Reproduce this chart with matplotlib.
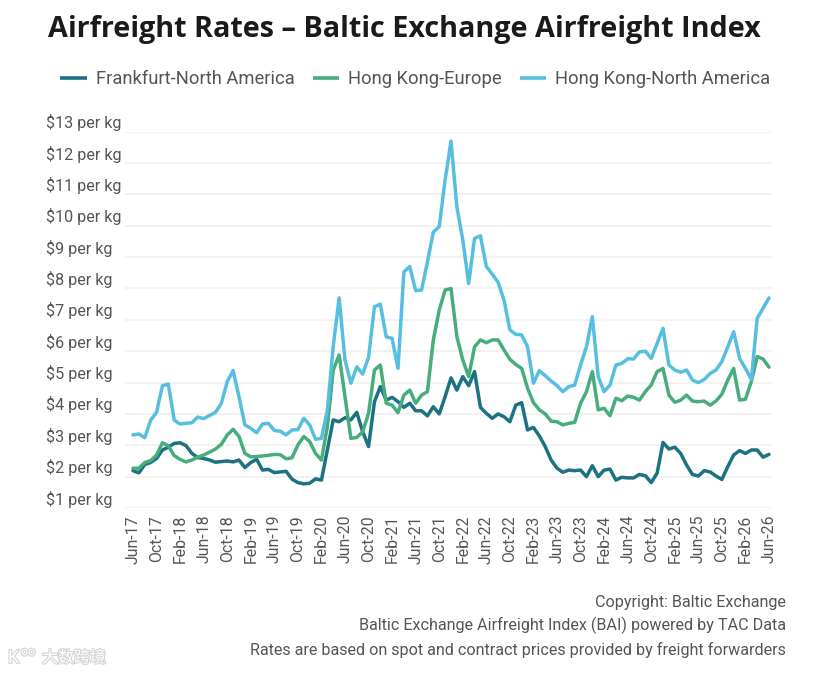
import numpy as np
import pandas as pd
import matplotlib
matplotlib.use("Agg")
import matplotlib.pyplot as plt
import matplotlib.patheffects as pe
from matplotlib.lines import Line2D

months = pd.date_range("2017-06-01", periods=109, freq="MS")
y_ticks = list(range(1, 14))
series_names = ["Frankfurt-North America", "Hong Kong-Europe", "Hong Kong-North America"]

frankfurt = [2.19,2.12,2.39,2.45,2.58,2.85,2.94,3.06,3.08,2.99,2.74,2.61,2.58,2.53,2.46,2.48,2.50,2.47,2.53,2.29,
             2.45,2.55,2.21,2.23,2.13,2.15,2.17,1.92,1.81,1.77,1.79,1.93,1.89,2.85,3.81,3.75,3.88,3.81,4.05,3.43,
             2.96,4.39,4.87,4.44,4.53,4.39,4.21,4.34,4.10,4.10,3.94,4.23,4.00,4.55,5.15,4.76,5.19,4.90,5.35,4.21,
             4.02,3.86,4.00,3.91,3.75,4.28,4.36,3.49,3.57,3.30,2.96,2.53,2.27,2.14,2.21,2.19,2.21,2.00,2.35,2.00,
             2.21,2.24,1.89,1.98,1.96,1.96,2.07,2.03,1.81,2.11,3.09,2.88,2.94,2.74,2.37,2.07,2.02,2.19,2.15,2.02,
             1.91,2.32,2.69,2.83,2.74,2.85,2.85,2.62,2.71]
hk_europe = [2.27,2.27,2.45,2.51,2.69,3.08,2.98,2.67,2.55,2.47,2.53,2.62,2.69,2.78,2.88,3.03,3.33,3.51,3.28,2.74,
             2.63,2.64,2.66,2.68,2.71,2.70,2.57,2.60,3.01,3.28,3.12,2.74,2.53,3.59,5.40,5.88,4.55,3.22,3.25,3.43,
             4.02,5.40,5.56,4.34,4.28,4.04,4.60,4.76,4.34,4.60,4.71,6.36,7.31,7.95,8.00,6.46,5.72,5.19,6.14,6.36,
             6.27,6.36,6.36,6.04,5.74,5.58,5.45,4.82,4.36,4.13,4.00,3.77,3.75,3.65,3.70,3.73,4.34,4.71,5.35,4.13,
             4.18,3.94,4.50,4.42,4.57,4.53,4.44,4.71,4.92,5.35,5.45,4.60,4.37,4.44,4.60,4.41,4.39,4.41,4.28,4.41,
             4.63,5.08,5.45,4.44,4.47,5.03,5.83,5.75,5.49]
hk_namerica = [3.33,3.36,3.24,3.80,4.05,4.90,4.95,3.80,3.68,3.70,3.72,3.90,3.85,3.95,4.05,4.34,5.03,5.38,4.55,3.65,
               3.54,3.40,3.68,3.70,3.47,3.45,3.33,3.49,3.50,3.86,3.65,3.19,3.22,4.12,6.15,7.70,5.72,4.98,5.50,5.27,
               5.80,7.42,7.50,6.46,6.41,5.45,8.53,8.70,7.93,7.95,8.85,9.80,9.97,11.46,12.70,10.60,9.55,8.16,9.60,9.68,
               8.70,8.46,8.20,7.63,6.68,6.54,6.52,6.14,4.98,5.38,5.22,5.05,4.90,4.71,4.87,4.92,5.56,6.14,7.10,5.19,
               4.71,4.92,5.56,5.61,5.76,5.75,5.98,6.00,5.77,6.25,6.73,5.56,5.40,5.33,5.40,5.08,5.00,5.10,5.29,5.40,
               5.67,6.14,6.62,5.77,5.45,5.10,7.05,7.37,7.70]
colors = ["#1c7282", "#48ad7c", "#56bfe0"]

W, H = 830, 674
plt.rcParams["font.family"] = ["Roboto", "DejaVu Sans"]
fig = plt.figure(figsize=(W / 100, H / 100), dpi=100, facecolor="white")
L, R, T, B = 125, 772, 131.7, 508
ax = fig.add_axes([L / W, 1 - B / H, (R - L) / W, (B - T) / H])

idx = np.arange(len(months))
px_per_month = (769 - 133) / 108
ax.set_xlim(-(133 - L) / px_per_month, 108 + (R - 769) / px_per_month)
ax.set_ylim(1, 13)

for s in ax.spines.values():
    s.set_visible(False)
ax.set_yticks(y_ticks)
ax.set_yticklabels([])
ax.grid(axis="y", color="#f2f2f2", lw=1.5, zorder=0)
ax.set_axisbelow(True)
ax.tick_params(axis="both", length=0)
tick_idx = idx[::4]
ax.set_xticks(tick_idx)
ax.set_xticklabels([months[i].strftime("%b-%y") for i in tick_idx], rotation=90,
                   fontsize=11.4, color="#555555", ha="center", va="top")
ax.tick_params(axis="x", pad=5)

for v, data, c, n in [(0, hk_namerica, colors[2], series_names[2]),
                      (1, hk_europe, colors[1], series_names[1]),
                      (2, frankfurt, colors[0], series_names[0])]:
    ax.plot(idx, data, color=c, lw=2.5, solid_joinstyle="round", solid_capstyle="round",
            clip_on=False, zorder=3 + (2 - v), label=n)

def fx(px): return px / W
def fy(py): return 1 - py / H

for t in y_ticks:
    y_px = B - (t - 1) * (B - T) / 12
    fig.text(fx(46), fy(y_px - 9), f"${t} per kg", fontsize=11.6, color="#555555", ha="left", va="center")

fig.text(fx(48), fy(29), "Airfreight Rates – Baltic Exchange Airfreight Index",
         fontsize=20.7, fontweight="bold", color="#1a1a1a", ha="left", va="center",
         family=["Open Sans", "DejaVu Sans"])

for (x0, x1, xt), c, n in zip([(60, 87, 96), (313, 339, 348), (520, 546, 555)], colors, series_names):
    fig.add_artist(Line2D([fx(x0), fx(x1)], [fy(78), fy(78)], color=c, lw=2.6, solid_capstyle="butt"))
    fig.text(fx(xt), fy(79), n, fontsize=13.2, color="#555555", ha="left", va="center")

for y, s in [(602, "Copyright: Baltic Exchange"),
             (625, "Baltic Exchange Airfreight Index (BAI) powered by TAC Data"),
             (650, "Rates are based on spot and contract prices provided by freight forwarders")]:
    fig.text(fx(786), fy(y), s, fontsize=11.65, color="#555555", ha="right", va="center")

wm = [pe.withStroke(linewidth=1.6, foreground="#d4d4d4")]
fig.text(fx(42), fy(658), "大数跨境", fontsize=11.5, color="white", ha="left", va="center",
         family=["Noto Sans CJK SC", "DejaVu Sans"], path_effects=wm)
fig.text(fx(8), fy(658), "K", fontsize=13, color="white", ha="left", va="center", path_effects=wm)
fig.text(fx(21), fy(652), "oo", fontsize=9, color="white", ha="left", va="center", path_effects=wm)

fig.savefig("out.png", dpi=100, facecolor="white")
